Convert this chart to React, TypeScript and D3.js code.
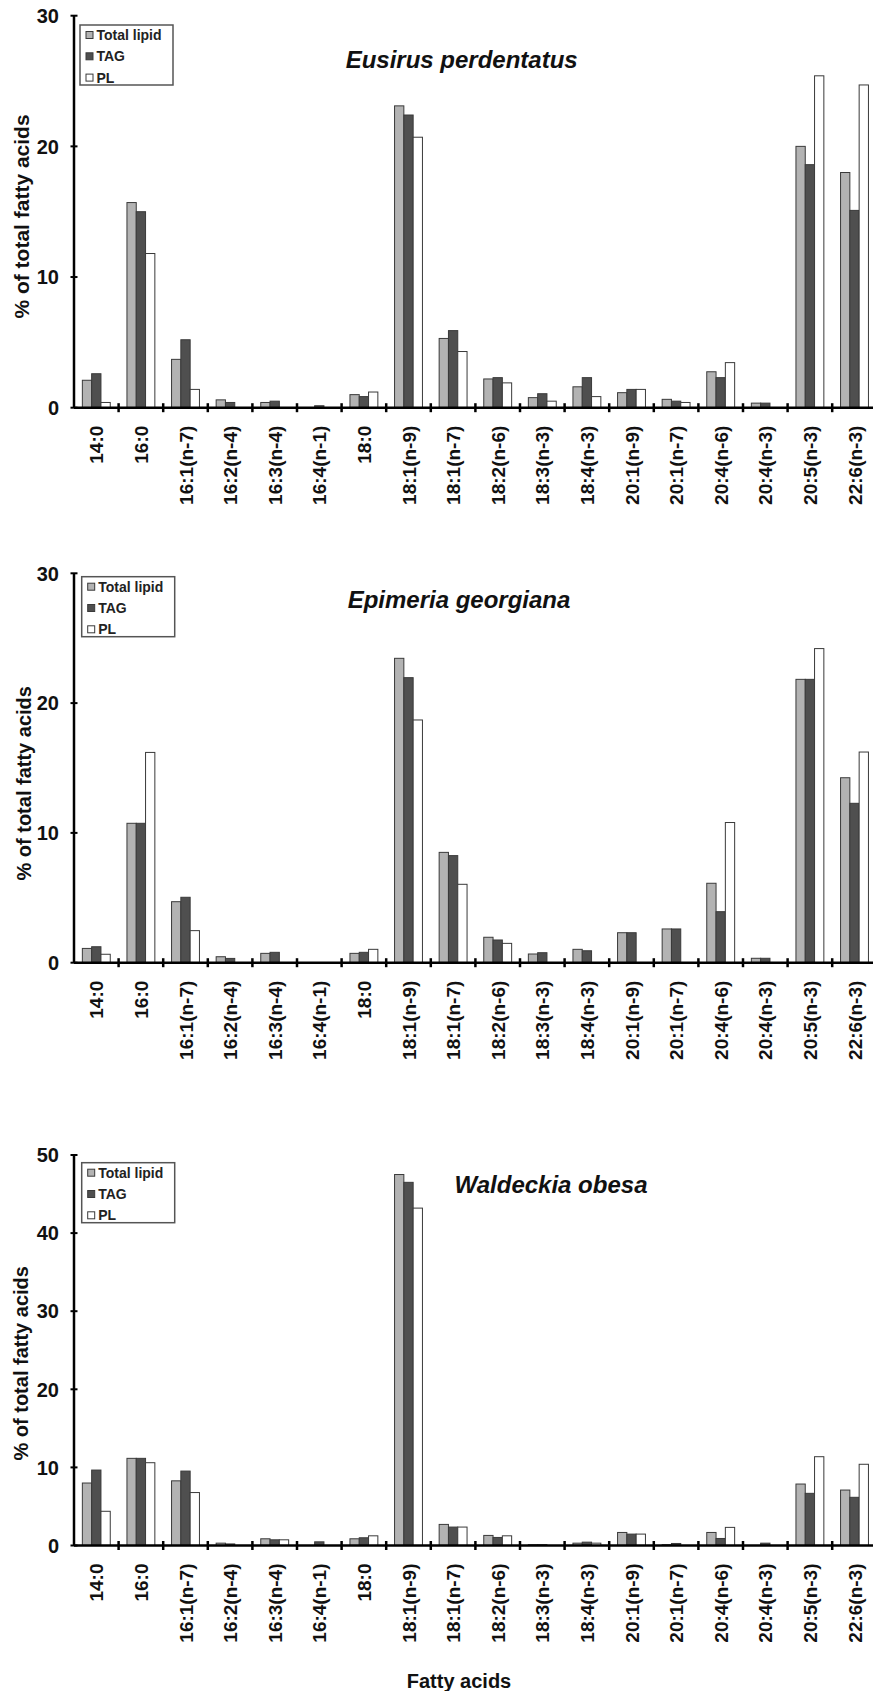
import React from "react";
import * as d3 from "d3";

const categories = [
  "14:0", "16:0", "16:1(n-7)", "16:2(n-4)", "16:3(n-4)", "16:4(n-1)", "18:0",
  "18:1(n-9)", "18:1(n-7)", "18:2(n-6)", "18:3(n-3)", "18:4(n-3)", "20:1(n-9)",
  "20:1(n-7)", "20:4(n-6)", "20:4(n-3)", "20:5(n-3)", "22:6(n-3)",
];
const seriesNames = ["Total lipid", "TAG", "PL"];

// Eusirus perdentatus
const eusirusTotal = [2.1, 15.7, 3.7, 0.6, 0.4, 0.0, 1.0, 23.1, 5.3, 2.2, 0.77, 1.6, 1.15, 0.64, 2.75, 0.35, 20.0, 18.0];
const eusirusTAG = [2.6, 15.0, 5.2, 0.4, 0.5, 0.15, 0.85, 22.4, 5.9, 2.3, 1.07, 2.3, 1.4, 0.5, 2.3, 0.35, 18.6, 15.1];
const eusirusPL = [0.4, 11.8, 1.4, 0.0, 0.0, 0.0, 1.2, 20.7, 4.3, 1.9, 0.5, 0.85, 1.4, 0.4, 3.45, 0.0, 25.4, 24.7];

// Epimeria georgiana
const epimeriaTotal = [1.1, 10.74, 4.7, 0.46, 0.72, 0.0, 0.72, 23.45, 8.5, 1.96, 0.67, 1.03, 2.31, 2.6, 6.12, 0.34, 21.83, 14.25];
const epimeriaTAG = [1.23, 10.74, 5.04, 0.33, 0.8, 0.0, 0.8, 21.96, 8.25, 1.75, 0.77, 0.92, 2.31, 2.6, 3.93, 0.34, 21.83, 12.28];
const epimeriaPL = [0.65, 16.2, 2.47, 0.0, 0.0, 0.0, 1.03, 18.7, 6.04, 1.49, 0.0, 0.0, 0.0, 0.0, 10.8, 0.0, 24.2, 16.23];

// Waldeckia obesa
const waldeckiaTotal = [8.0, 11.16, 8.28, 0.3, 0.86, 0.0, 0.86, 47.5, 2.7, 1.29, 0.1, 0.3, 1.67, 0.1, 1.67, 0.0, 7.87, 7.1];
const waldeckiaTAG = [9.66, 11.16, 9.53, 0.2, 0.73, 0.47, 0.99, 46.5, 2.36, 1.03, 0.1, 0.43, 1.46, 0.26, 0.9, 0.3, 6.68, 6.17];
const waldeckiaPL = [4.38, 10.6, 6.78, 0.0, 0.73, 0.0, 1.24, 43.2, 2.36, 1.24, 0.0, 0.3, 1.46, 0.0, 2.32, 0.0, 11.37, 10.4];

const ticks30 = [0, 10, 20, 30];
const ticks50 = [0, 10, 20, 30, 40, 50];

const yTitle = "% of total fatty acids";
const xTitle = "Fatty acids";

const FILLS = ["#b3b3b3", "#4f4f4f", "#ffffff"];
const STROKE = "#3a3a3a";
const FONT = "'Liberation Sans', Arial, Helvetica, sans-serif";

interface PanelCfg {
  title: string;
  series: number[][];
  yMax: number;
  ticks: number[];
  yTopPx: number;
  yZeroPx: number;
  titleX: number;
  titleY: number;
  legendX: number;
  legendY: number;
  yTitleX: number;
  yTitleY: number;
  yTitleSize: number;
}

const panels: PanelCfg[] = [
  {
    title: "Eusirus perdentatus",
    series: [eusirusTotal, eusirusTAG, eusirusPL],
    yMax: 30, ticks: ticks30, yTopPx: 15.7, yZeroPx: 407.7,
    titleX: 461.7, titleY: 67.5, legendX: 80, legendY: 25,
    yTitleX: 29, yTitleY: 216.5, yTitleSize: 21,
  },
  {
    title: "Epimeria georgiana",
    series: [epimeriaTotal, epimeriaTAG, epimeriaPL],
    yMax: 30, ticks: ticks30, yTopPx: 573.3, yZeroPx: 962.7,
    titleX: 459, titleY: 608.3, legendX: 81.7, legendY: 576.7,
    yTitleX: 31, yTitleY: 783.3, yTitleSize: 20,
  },
  {
    title: "Waldeckia obesa",
    series: [waldeckiaTotal, waldeckiaTAG, waldeckiaPL],
    yMax: 50, ticks: ticks50, yTopPx: 1155, yZeroPx: 1545.5,
    titleX: 551, titleY: 1192.7, legendX: 81.7, legendY: 1162.7,
    yTitleX: 28, yTitleY: 1363.3, yTitleSize: 20,
  },
];

const AXIS_X = 74;
const BAND = 44.6;
const BAR_W = 9.3;

function Panel({ cfg }: { cfg: PanelCfg }) {
  const x = d3
    .scaleBand<string>()
    .domain(categories)
    .range([AXIS_X, AXIS_X + BAND * categories.length])
    .paddingInner(0)
    .paddingOuter(0);
  const y = d3.scaleLinear().domain([0, cfg.yMax]).range([cfg.yZeroPx, cfg.yTopPx]);
  const boundaries = d3.range(1, categories.length + 1).map((i) => AXIS_X + i * x.bandwidth());

  return (
    <g>
      {categories.map((c, ci) => {
        const center = (x(c) as number) + x.bandwidth() / 2;
        return cfg.series.map((s, si) => {
          const v = s[ci];
          if (v <= 0) return null;
          const bx = center + (si - 1.5) * BAR_W;
          return (
            <rect
              key={`${ci}-${si}`}
              x={bx}
              y={y(v)}
              width={BAR_W}
              height={cfg.yZeroPx - y(v)}
              fill={FILLS[si]}
              stroke={STROKE}
              strokeWidth={1}
            />
          );
        });
      })}
      <line x1={AXIS_X} x2={873} y1={cfg.yZeroPx} y2={cfg.yZeroPx} stroke="#000" strokeWidth={2.5} />
      {boundaries.map((bx, i) => (
        <line key={i} x1={bx} x2={bx} y1={cfg.yZeroPx - 4.5} y2={cfg.yZeroPx + 4.5} stroke="#000" strokeWidth={2.5} />
      ))}
      <line x1={AXIS_X} x2={AXIS_X} y1={cfg.yTopPx} y2={cfg.yZeroPx} stroke="#000" strokeWidth={2.5} />
      {cfg.ticks.map((t) => (
        <g key={t}>
          <line x1={AXIS_X - 3.5} x2={AXIS_X + 3.5} y1={y(t)} y2={y(t)} stroke="#000" strokeWidth={2} />
          <text
            x={59}
            y={y(t)}
            dy="0.36em"
            textAnchor="end"
            fontFamily={FONT}
            fontWeight="bold"
            fontSize={20}
            fill="#111"
          >
            {t}
          </text>
        </g>
      ))}
      {categories.map((c) => {
        const cx = (x(c) as number) + x.bandwidth() / 2;
        const ty = cfg.yZeroPx + 18;
        return (
          <text
            key={c}
            transform={`translate(${cx + 7},${ty}) rotate(-90)`}
            textAnchor="end"
            fontFamily={FONT}
            fontWeight="bold"
            fontSize={19}
            fill="#111"
          >
            {c}
          </text>
        );
      })}
      <text
        transform={`translate(${cfg.yTitleX},${cfg.yTitleY}) rotate(-90)`}
        textAnchor="middle"
        fontFamily={FONT}
        fontWeight="bold"
        fontSize={cfg.yTitleSize}
        fill="#111"
      >
        {yTitle}
      </text>
      <text
        x={cfg.titleX}
        y={cfg.titleY}
        textAnchor="middle"
        fontFamily={FONT}
        fontWeight="bold"
        fontStyle="italic"
        fontSize={24}
        fill="#111"
      >
        {cfg.title}
      </text>
      <g transform={`translate(${cfg.legendX},${cfg.legendY})`}>
        <rect x={0} y={0} width={93} height={60} fill="#fff" stroke="#555" strokeWidth={1.5} />
        {seriesNames.map((n, i) => {
          const cy = 10 + i * 21.3;
          return (
            <g key={n}>
              <rect x={6} y={cy - 3.5} width={7} height={7} fill={FILLS[i]} stroke={STROKE} strokeWidth={1} />
              <text x={16.5} y={cy} dy="0.36em" fontFamily={FONT} fontWeight="bold" fontSize={14} fill="#222">
                {n}
              </text>
            </g>
          );
        })}
      </g>
    </g>
  );
}

export default function App() {
  return (
    <svg
      width={873}
      height={1691}
      viewBox="0 0 873 1691"
      style={{ position: "absolute", left: 0, top: 0, background: "#fff" }}
    >
      <rect x={0} y={0} width={873} height={1691} fill="#fff" />
      {panels.map((p) => (
        <Panel key={p.title} cfg={p} />
      ))}
      <text
        x={459}
        y={1688}
        textAnchor="middle"
        fontFamily={FONT}
        fontWeight="bold"
        fontSize={20}
        fill="#111"
      >
        {xTitle}
      </text>
    </svg>
  );
}
